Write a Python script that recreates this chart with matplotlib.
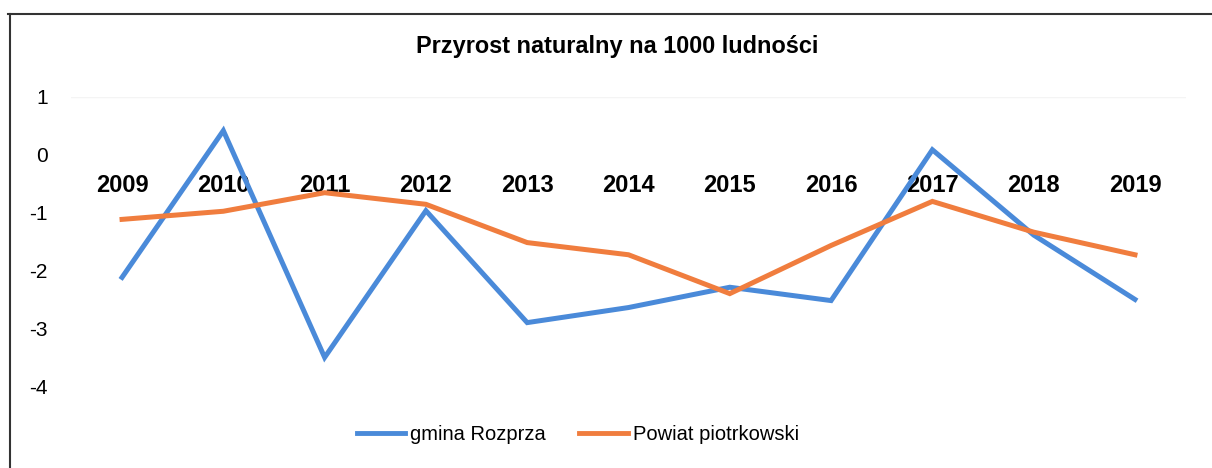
import matplotlib
matplotlib.use("Agg")
import matplotlib.pyplot as plt
from matplotlib.lines import Line2D

years = ["2009", "2010", "2011", "2012", "2013", "2014", "2015", "2016", "2017", "2018", "2019"]
gmina = [-2.11, 0.42, -3.49, -0.96, -2.89, -2.63, -2.28, -2.51, 0.09, -1.38, -2.49]
powiat = [-1.11, -0.97, -0.65, -0.85, -1.51, -1.72, -2.39, -1.56, -0.80, -1.33, -1.72]
yticks = [1, 0, -1, -2, -3, -4]

title = "Przyrost naturalny na 1000 ludności"
name_gmina = "gmina Rozprza"
name_powiat = "Powiat piotrkowski"

plt.rcParams['font.family'] = ['Liberation Sans', 'DejaVu Sans']

W, H = 1212, 468
fig = plt.figure(figsize=(W / 100, H / 100), dpi=100)
ax = fig.add_axes([71.4 / W, 1 - 387 / H, (1185.6 - 71.4) / W, 290 / H])

x = list(range(len(years)))
blue = '#4a8ad9'
orange = '#f07d3e'
ax.plot(x, gmina, color=blue, lw=3.6, solid_joinstyle='miter', label=name_gmina, zorder=3)
ax.plot(x, powiat, color=orange, lw=3.6, solid_joinstyle='miter', label=name_powiat, zorder=4)

for s in ax.spines.values():
    s.set_visible(False)
ax.spines['bottom'].set_position(('data', 0))

ax.set_xlim(-0.5, 10.5)
ax.set_ylim(-4, 1)
ax.set_yticks(yticks)
ax.set_yticklabels([str(v) for v in yticks], fontsize=15)
ax.tick_params(axis='y', length=0, pad=17)

ax.set_xticks(x)
ax.set_xticklabels(years, fontsize=17, fontweight='bold')
ax.tick_params(axis='x', length=0, pad=14)
ax.axhline(1, color='#f4f4f4', lw=1, zorder=0)

fig.text(617 / W, 1 - 47 / H, title, ha='center', va='center', fontsize=16.9, fontweight='bold')

leg = fig.legend(loc='center', bbox_to_anchor=(578 / W, 1 - 435 / H), ncol=2, frameon=False,
                 fontsize=14.5, handlelength=2.4, handletextpad=0.25, columnspacing=1.65)
for lh in leg.get_lines():
    lh.set_linewidth(3.5)

fig.add_artist(Line2D([8 / W, 1], [1 - 14 / H, 1 - 14 / H], transform=fig.transFigure, color='#333333', lw=1.5))
fig.add_artist(Line2D([9.5 / W, 9.5 / W], [0, 1 - 14 / H], transform=fig.transFigure, color='#333333', lw=1.5))

fig.savefig('out.png', dpi=100, facecolor='white')
